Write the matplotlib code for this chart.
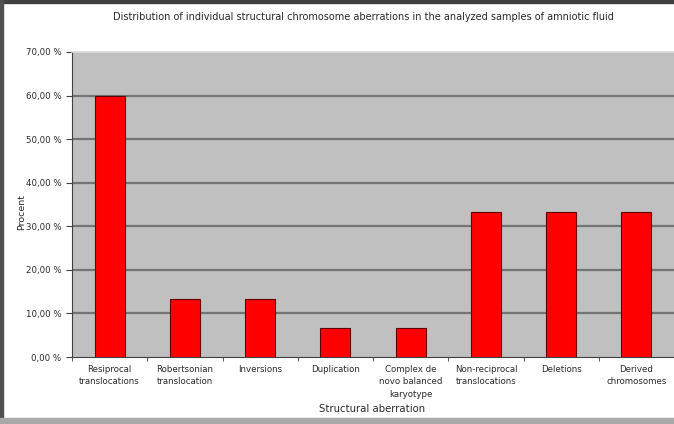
import matplotlib
matplotlib.use("Agg")
import matplotlib.pyplot as plt
from matplotlib.patches import Rectangle
from matplotlib.ticker import FuncFormatter, FixedLocator

categories = ["Resiprocal\ntranslocations", "Robertsonian\ntranslocation", "Inversions",
              "Duplication", "Complex de\nnovo balanced\nkaryotype", "Non-reciprocal\ntranslocations",
              "Deletions", "Derived\nchromosomes"]
values = [60.0, 13.33, 13.33, 6.67, 6.67, 33.33, 33.33, 33.33]
yticks = [0, 10, 20, 30, 40, 50, 60, 70]

plt.rcParams['font.family'] = ['DejaVu Sans']

fig = plt.figure(figsize=(6.74, 4.24), dpi=100)
W, H = 674, 424
ax = fig.add_axes([72 / W, 1 - 357 / H, (674 - 72) / W, (357 - 52) / H])
ax.set_facecolor('#C0C0C0')

x = list(range(len(categories)))
ax.bar(x, values, width=0.4, color='#FF0000', edgecolor='#600000', linewidth=0.8, zorder=3)

ax.set_xlim(-0.5, len(categories) - 0.5)
ax.set_ylim(0, 70)
ax.yaxis.set_major_locator(FixedLocator(yticks))
ax.yaxis.set_major_formatter(FuncFormatter(lambda v, p: f"{v:.2f}".replace('.', ',') + " %"))
for t in yticks[1:-1]:
    ax.axhline(t, color='#747474', linewidth=1.6, zorder=1)

ax.set_xticks(x)
ax.set_xticklabels(categories, fontsize=6.2, color='#2a2a2a', linespacing=1.45)
ax.set_xticks([i + 0.5 for i in range(-1, len(categories))], minor=True)
ax.tick_params(axis='x', which='major', length=0, pad=6)
ax.tick_params(axis='x', which='minor', length=3, color='#404040')
ax.tick_params(axis='y', labelsize=6.2, labelcolor='#2a2a2a', length=4, color='#404040')

ax.spines['right'].set_visible(False)
ax.spines['top'].set_color('#DCDCDC')
ax.spines['top'].set_linewidth(1.2)
ax.spines['left'].set_color('#404040')
ax.spines['bottom'].set_color('#404040')

fig.text(363 / W, 1 - 17 / H,
         "Distribution of individual structural chromosome aberrations in the analyzed samples of amniotic fluid",
         ha='center', va='center', fontsize=7.0, color='#2a2a2a')
fig.text(372 / W, 1 - 409 / H, "Structural aberration", ha='center', va='center', fontsize=7.3, color='#2a2a2a')
fig.text(22 / W, 1 - 212 / H, "Procent", ha='center', va='center', rotation=90, fontsize=6.8, color='#2a2a2a')

# outer frame
fig.patches.append(Rectangle((0, 1 - 3 / H), 1, 3 / H, transform=fig.transFigure, color='#404040', zorder=10))
fig.patches.append(Rectangle((0, 0), 3 / W, 1, transform=fig.transFigure, color='#505050', zorder=10))
fig.patches.append(Rectangle((0, 0), 1, 6 / H, transform=fig.transFigure, color='#A8A8A8', zorder=10))

fig.savefig("out.png", dpi=100)
